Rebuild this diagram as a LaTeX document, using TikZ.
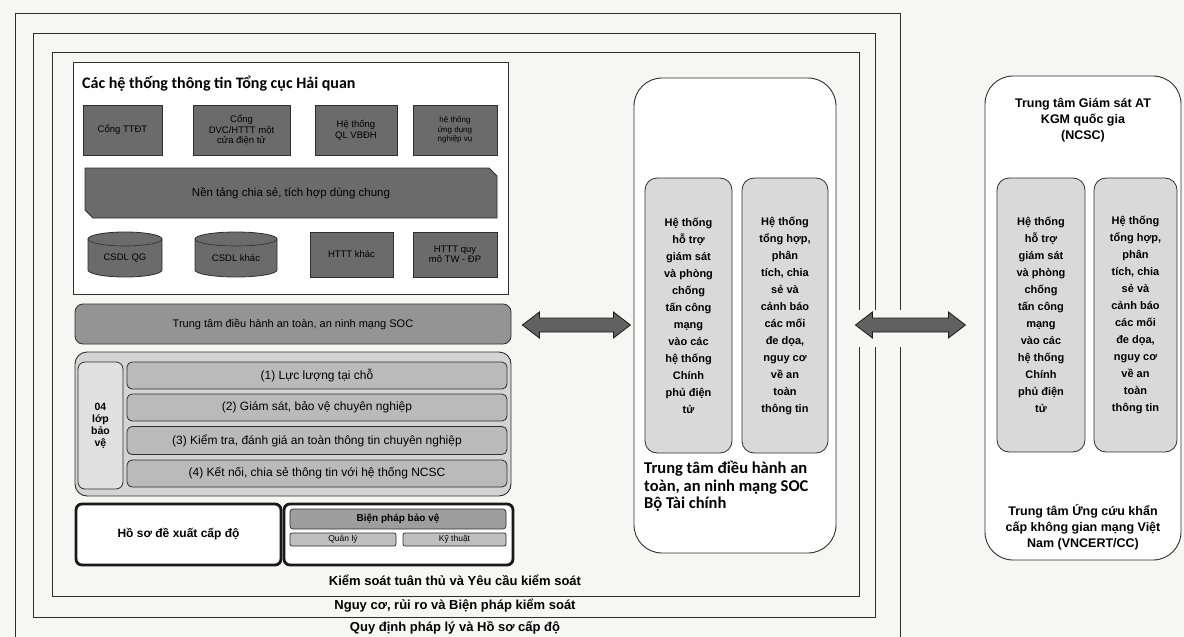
\documentclass[tikz,border=0pt]{standalone}
\usepackage{fontspec}
\setmainfont{Liberation Sans}
\newfontfamily\calfont{Carlito}
\usetikzlibrary{calc}
\definecolor{bgc}{HTML}{F6F6F4}
\definecolor{linec}{HTML}{2E2E2E}
\tikzset{
  frame/.style={draw=linec, line width=0.9pt},
  dbox/.style={draw=linec, fill=black!58, line width=0.8pt, inner sep=1pt, align=center,
    font=\fontsize{9.5}{10.5}\selectfont, text=black},
  dtext/.style={inner sep=0pt, align=center, font=\fontsize{9.5}{10.5}\selectfont, text=black},
  cylst/.style={draw=linec, fill=black!58, line width=0.8pt},
  socbar/.style={draw=linec, fill=black!42, line width=0.8pt, rounded corners=8pt, inner sep=0pt,
    font=\fontsize{11}{13}\selectfont},
  grp/.style={draw=linec, fill=black!17, line width=0.9pt, rounded corners=12pt, inner sep=0pt},
  lbox/.style={draw=linec, fill=black!12, line width=0.8pt, rounded corners=7pt, inner sep=0pt,
    align=center, font=\bfseries\fontsize{10.5}{12}\selectfont},
  layer/.style={draw=linec, fill=black!27, line width=0.8pt, rounded corners=5pt, inner sep=0pt,
    minimum width=380pt, font=\fontsize{12}{14}\selectfont},
  thick box/.style={draw=black!90, line width=2.8pt, rounded corners=6pt, inner sep=0pt, fill=white},
  small bar/.style={draw=linec, fill=black!38, line width=0.7pt, rounded corners=3pt, inner sep=0pt,
    font=\bfseries\fontsize{10}{11}\selectfont},
  tiny bar/.style={draw=linec, fill=black!25, line width=0.7pt, rounded corners=2pt, inner sep=0pt,
    font=\fontsize{8.5}{9}\selectfont},
  center box/.style={draw=linec, fill=white, line width=0.9pt, rounded corners=28pt, inner sep=0pt},
  sub box/.style={draw=linec, fill=black!15, line width=0.8pt, rounded corners=12pt, inner sep=0pt,
    align=center, font=\bfseries\fontsize{11}{17}\selectfont},
  caption/.style={inner sep=0pt, font=\calfont\bfseries\fontsize{16.5}{17.5}\selectfont},
  ncsc text/.style={inner sep=0pt, align=center, font=\bfseries\fontsize{12.5}{16}\selectfont},
  level text/.style={inner sep=0pt, font=\bfseries\fontsize{13}{15}\selectfont},
  bigarrow/.style={draw=black!90, fill=black!62, line width=0.8pt, line join=miter}
}
\begin{document}
\begin{tikzpicture}[x=1pt,y=1pt]
\useasboundingbox (0,0) rectangle (1184,-637);
\fill[bgc] (0,0) rectangle (1184,-637);
% nested frames
\draw[frame] (15,-13) rectangle (900,-660);
\draw[frame] (33,-33) rectangle (875,-617);
\draw[frame] (52,-52) rectangle (859,-596);
% information systems block
\node[draw=linec, line width=0.9pt, fill=white, minimum width=435pt, minimum height=232pt, anchor=north west, inner sep=0pt] (htt) at (73,-62) {};
\node[anchor=west, inner sep=0pt, font={\calfont\bfseries\fontsize{16}{18}\selectfont}] (htttitle) at (82,-84) {Các hệ thống thông tin Tổng cục Hải quan};
\node[dbox, minimum width=79pt, minimum height=50pt] (c1) at (122.5,-130) {Cổng TTĐT};
\node[dbox, minimum width=97pt, minimum height=50pt] (c2) at (241.5,-130) {Cổng\\DVC/HTTT một\\cửa điện tử};
\node[dbox, minimum width=82pt, minimum height=50pt] (c3) at (356,-130) {Hệ thống\\QL VBĐH};
\node[dbox, minimum width=84pt, minimum height=50pt, font=\fontsize{8}{9.5}\selectfont] (c4) at (455,-130) {hệ thống\\ứng dụng\\nghiệp vụ};
\filldraw[cylst] (85,-168) -- (489,-168) -- (497,-176) -- (497,-218) -- (93,-218) -- (85,-210) -- cycle;
\node[dtext, font=\fontsize{11.5}{13}\selectfont] (platform) at (291,-193) {Nền tảng chia sẻ, tích hợp dùng chung};
\filldraw[cylst] (88,-239) -- (88,-270) arc[start angle=180,end angle=360,x radius=37,y radius=7] -- (162,-239) arc[start angle=0,end angle=180,x radius=37,y radius=7] -- cycle;
\draw[draw=linec, line width=0.6pt] (88,-239) arc[start angle=180,end angle=360,x radius=37,y radius=7];
\node[dtext] (csdlqg) at (125,-258) {CSDL QG};
\filldraw[cylst] (195,-239) -- (195,-270) arc[start angle=180,end angle=360,x radius=41,y radius=7] -- (277,-239) arc[start angle=0,end angle=180,x radius=41,y radius=7] -- cycle;
\draw[draw=linec, line width=0.6pt] (195,-239) arc[start angle=180,end angle=360,x radius=41,y radius=7];
\node[dtext] (csdlk) at (236,-258) {CSDL khác};
\node[dbox, minimum width=83pt, minimum height=45pt] (httk) at (351.5,-254.5) {HTTT khác};
\node[dbox, minimum width=84pt, minimum height=45pt] (httq) at (455,-254.5) {HTTT quy\\mô TW - ĐP};
% SOC bar
\node[socbar, minimum width=436pt, minimum height=40pt] (socbar) at (293,-324) {Trung tâm điều hành an toàn, an ninh mạng SOC};
% protection layers
\node[grp, minimum width=436pt, minimum height=144pt] (grp) at (293,-424) {};
\node[lbox, minimum width=45pt, minimum height=127pt] (lop) at (100.5,-425.5) {04\\lớp\\bảo\\vệ};
\node[layer, minimum height=27pt] (l1) at (317,-375.5) {(1) Lực lượng tại chỗ};
\node[layer, minimum height=27pt] (l2) at (317,-407.5) {(2) Giám sát, bảo vệ chuyên nghiệp};
\node[layer, minimum height=28pt] (l3) at (317,-440.5) {(3) Kiểm tra, đánh giá an toàn thông tin chuyên nghiệp};
\node[layer, minimum height=27pt] (l4) at (317,-473.5) {(4) Kết nối, chia sẻ thông tin với hệ thống NCSC};
% level dossier
\node[thick box, minimum width=205pt, minimum height=61pt, font=\bfseries\fontsize{12}{14}\selectfont] (hoso) at (178.5,-534.5) {Hồ sơ đề xuất cấp độ};
\node[thick box, minimum width=229pt, minimum height=61pt] (bp) at (398.5,-534.5) {};
\node[small bar, minimum width=216pt, minimum height=20pt] (bpbv) at (398,-519) {Biện pháp bảo vệ};
\node[tiny bar, minimum width=106pt, minimum height=13pt] (ql) at (343,-539.5) {Quản lý};
\node[tiny bar, minimum width=103pt, minimum height=13pt] (kt) at (454.5,-539.5) {Kỹ thuật};
% frame captions
\node[level text] (t1) at (455,-580) {Kiểm soát tuân thủ và Yêu cầu kiểm soát};
\node[level text] (t2) at (455,-606) {Nguy cơ, rủi ro và Biện pháp kiểm soát};
\node[level text] (t3) at (455,-628) {Quy định pháp lý và Hồ sơ cấp độ};
% SOC Bo Tai chinh
\node[center box, minimum width=202pt, minimum height=475pt] (soc) at (735,-315.5) {};
\node[sub box, minimum width=87pt, minimum height=275pt] (soc1) at (688.5,-315.5) {Hệ thống\\hỗ trợ\\giám sát\\và phòng\\chống\\tấn công\\mạng\\vào các\\hệ thống\\Chính\\phủ điện\\tử};
\node[sub box, minimum width=86pt, minimum height=275pt] (soc2) at (785,-315.5) {Hệ thống\\tổng hợp,\\phân\\tích, chia\\sẻ và\\cảnh báo\\các mối\\đe dọa,\\nguy cơ\\về an\\toàn\\thông tin};
\node[caption, anchor=north west, align=left] (soccap) at (644,-461) {Trung tâm điều hành an\\toàn, an ninh mạng SOC\\Bộ Tài chính};
% NCSC
\node[center box, minimum width=196pt, minimum height=484pt] (ncsc) at (1083,-318) {};
\node[ncsc text] (ncsctitle) at (1083,-120) {Trung tâm Giám sát AT\\KGM quốc gia\\(NCSC)};
\node[sub box, minimum width=88pt, minimum height=274pt] (ncsc1) at (1041,-315) {Hệ thống\\hỗ trợ\\giám sát\\và phòng\\chống\\tấn công\\mạng\\vào các\\hệ thống\\Chính\\phủ điện\\tử};
\node[sub box, minimum width=83pt, minimum height=274pt] (ncsc2) at (1135.5,-315) {Hệ thống\\tổng hợp,\\phân\\tích, chia\\sẻ và\\cảnh báo\\các mối\\đe dọa,\\nguy cơ\\về an\\toàn\\thông tin};
\node[ncsc text] (ncsccap) at (1083,-527) {Trung tâm Ứng cứu khẩn\\cấp không gian mạng Việt\\Nam (VNCERT/CC)};
% double arrows between the centres
\coordinate (aL) at ($(socbar.east)+(11,-1)$);
\draw[bigarrow] (aL) -- ++(17,13) -- ++(0,-6) -- ++(74,0) -- ++(0,6) -- ++(17,-13)
  -- ++(-17,-13) -- ++(0,6) -- ++(-74,0) -- ++(0,-6) -- cycle;
\coordinate (aR) at ($(soc.east |- socbar.east)+(19,-1)$);
\fill[bgc] ($(aR)+(-5,15)$) rectangle ($(aR)+(55,-22)$);
\draw[bigarrow] (aR) -- ++(17,13) -- ++(0,-6) -- ++(76,0) -- ++(0,6) -- ++(17,-13)
  -- ++(-17,-13) -- ++(0,6) -- ++(-76,0) -- ++(0,-6) -- cycle;
\end{tikzpicture}
\end{document}
